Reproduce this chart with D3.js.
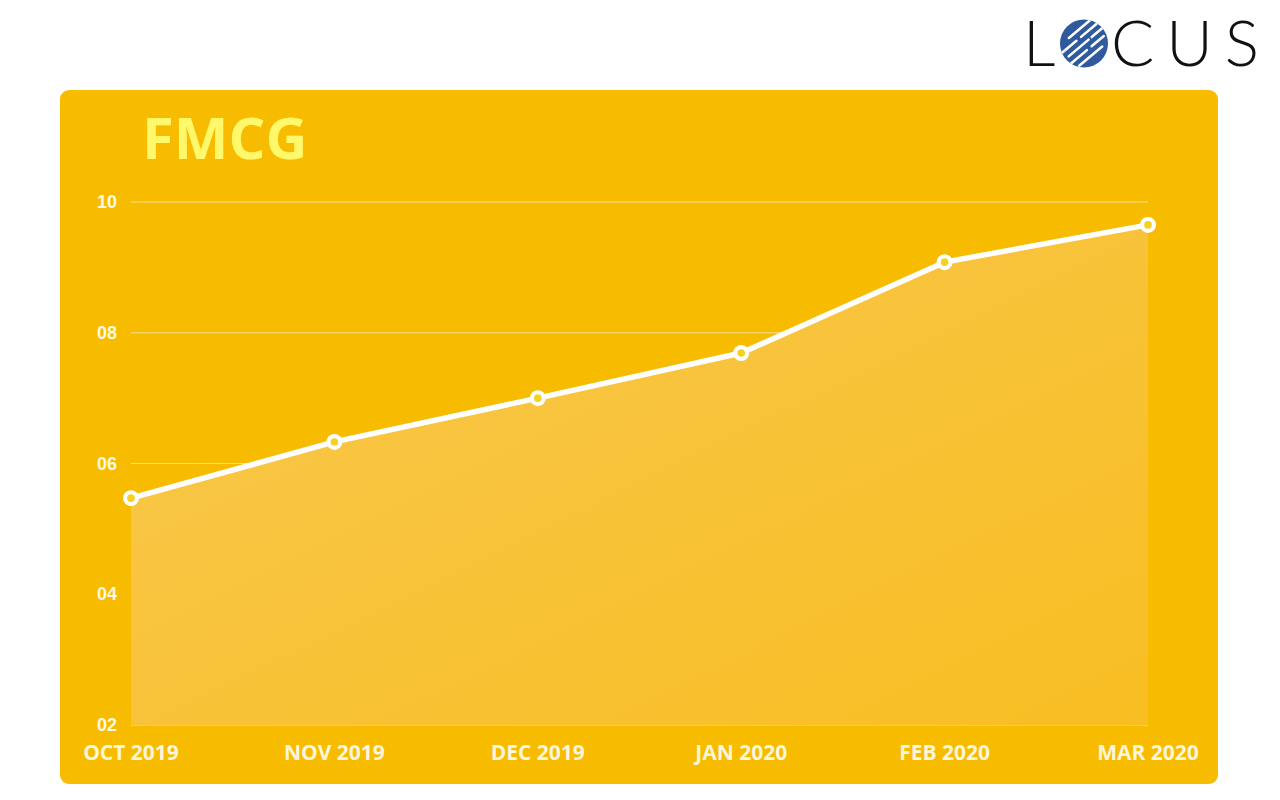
<!DOCTYPE html>
<html><head><meta charset="utf-8">
<script src="https://cdn.jsdelivr.net/npm/d3@7"></script>
<style>html,body{margin:0;padding:0;background:#fff;}svg{display:block;}</style>
</head><body>
<script>
const months = ["OCT 2019","NOV 2019","DEC 2019","JAN 2020","FEB 2020","MAR 2020"];
const values = [5.47, 6.33, 7.0, 7.69, 9.08, 9.65];
const yTicks = [2, 4, 6, 8, 10];
const title = "FMCG";

const W = 1280, H = 800;
const svg = d3.select("body").append("svg").attr("width", W).attr("height", H);
const defs = svg.append("defs");
const grad = defs.append("linearGradient").attr("id","areaGrad")
  .attr("x1","0%").attr("y1","0%").attr("x2","100%").attr("y2","100%");
grad.append("stop").attr("offset","0%").attr("stop-color","#F9C850");
grad.append("stop").attr("offset","100%").attr("stop-color","#F8BE22");

// panel
svg.append("rect").attr("x",60).attr("y",90).attr("width",1158).attr("height",694)
  .attr("rx",9).attr("fill","#F7BC00");

// title
svg.append("text").attr("x",142).attr("y",159).text(title)
  .attr("font-family","'Open Sans', sans-serif").attr("font-weight",700)
  .attr("font-size",58).attr("fill","#FFF86A");

const x = d3.scalePoint().domain(months).range([131,1148]);
const y = d3.scaleLinear().domain([2,10]).range([725,202]);

// grid
svg.append("g").selectAll("line").data(yTicks).join("line")
  .attr("x1",131).attr("x2",1148).attr("y1",d=>y(d)).attr("y2",d=>y(d))
  .attr("stroke","#FFE08A").attr("stroke-width",1);

// area
const area = d3.area().x((d,i)=>x(months[i])).y0(y(2)).y1(d=>y(d));
svg.append("path").datum(values).attr("d",area).attr("fill","url(#areaGrad)");

// y tick labels
const fmt = d3.format("02d");
svg.append("g").selectAll("text").data(yTicks).join("text")
  .attr("x",117).attr("y",d=>y(d)+6).attr("text-anchor","end")
  .attr("font-family","'Liberation Sans', Arial, sans-serif").attr("font-weight",700)
  .attr("font-size",18).attr("fill","#FFF8E6").text(d=>fmt(d));

// x labels
svg.append("g").selectAll("text").data(months).join("text")
  .attr("x",d=>x(d)).attr("y",760).attr("text-anchor","middle")
  .attr("font-family","'Open Sans', sans-serif").attr("font-weight",700)
  .attr("font-size",21).attr("fill","#FFF6DC").text(d=>d);

// line
const line = d3.line().x((d,i)=>x(months[i])).y(d=>y(d));
svg.append("path").datum(values).attr("d",line).attr("fill","none")
  .attr("stroke","#fff").attr("stroke-width",5.5).attr("stroke-linejoin","round");

// markers
const pts = svg.append("g").selectAll("g").data(values).join("g")
  .attr("transform",(d,i)=>`translate(${x(months[i])},${y(d)})`);
pts.append("circle").attr("r",8).attr("fill","#fff");
pts.append("circle").attr("r",3.8).attr("fill","#F5D21E");

// logo
const logo = svg.append("g");
const lf = {"font-family":"Lato, 'Open Sans', sans-serif","font-weight":300,"font-size":64,"fill":"#111"};
const tL = logo.append("text").attr("x",1023).attr("y",66).text("L");
const tC = logo.append("text").attr("x",1111).attr("y",66).text("CUS")
  .attr("textLength",148).attr("lengthAdjust","spacing");
[tL,tC].forEach(t=>Object.entries(lf).forEach(([k,v])=>t.attr(k,v)));
const cx=1084, cy=43.5, r=24;
defs.append("clipPath").attr("id","globe").append("circle").attr("cx",cx).attr("cy",cy).attr("r",r);
logo.append("circle").attr("cx",cx).attr("cy",cy).attr("r",r).attr("fill","#2F5A9E");
const stripes = logo.append("g").attr("clip-path","url(#globe)");
const sdata = [[-14,-8,20],[-7,-22,-4],[-7,2,22],[0,-20,6],[0,10,26],[7,-24,-2],[7,4,20],[14,-18,12]];
const ang = -Math.PI/4.5;
const ux=Math.cos(ang), uy=Math.sin(ang), px=-uy, py=ux;
stripes.selectAll("line").data(sdata).join("line")
  .attr("x1",d=>cx+px*d[0]+ux*d[1]).attr("y1",d=>cy+py*d[0]+uy*d[1])
  .attr("x2",d=>cx+px*d[0]+ux*d[2]).attr("y2",d=>cy+py*d[0]+uy*d[2])
  .attr("stroke","#fff").attr("stroke-width",2.5).attr("stroke-linecap","round");
</script>
</body></html>
